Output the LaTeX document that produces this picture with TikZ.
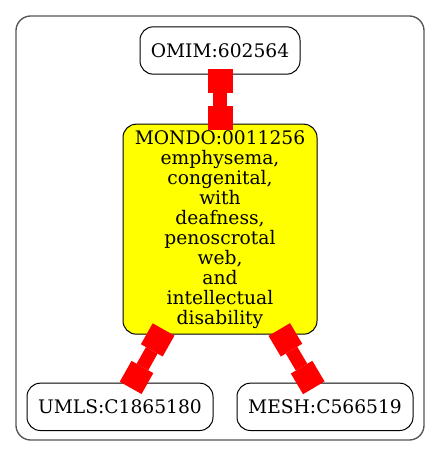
\documentclass[tikz,border=0pt]{standalone}
\usepackage{fontspec}
\setmainfont{DejaVu Serif}
\usetikzlibrary{arrows.meta, positioning}
\definecolor{termyellow}{RGB}{255,255,0}
\definecolor{linkred}{RGB}{255,0,0}

\begin{document}
\begin{tikzpicture}[
    x=0.75pt, y=-0.75pt,
    font=\fontsize{14}{15}\selectfont,
    node distance=36.75pt,
    term/.style={rectangle, rounded corners=10pt, draw=black, line width=0.75pt, fill=white, minimum height=35.5pt, inner sep=2pt, align=center},
    link/.style={linkred, line width=10pt, {Square[length=18pt,width=18.75pt,line width=0pt]}-{Square[length=18pt,width=18.75pt,line width=0pt]}, shorten <=-4.5pt, shorten >=-4.5pt}
]
\useasboundingbox (0,0) rectangle (440,456);
\draw[draw=black!67, line width=1pt, rounded corners=11pt] (16,16) rectangle (424,440);
\node[term, minimum width=120pt] (omim) at (220,50.5) {OMIM:602564};
\node[term, fill=termyellow, minimum width=145.5pt, minimum height=157.5pt, below=of omim] (mondo) {MONDO:0011256\\emphysema,\\congenital,\\with\\deafness,\\penoscrotal\\web,\\and\\intellectual\\disability};
\node[term, minimum width=139.5pt, below=36pt of mondo, xshift=-75pt] (umls) {UMLS:C1865180};
\node[term, minimum width=132pt, below=36pt of mondo, xshift=78.75pt] (mesh) {MESH:C566519};
\draw[link] (omim) -- (mondo);
\draw[link] (mondo) -- (umls);
\draw[link] (mondo) -- (mesh);
\end{tikzpicture}
\end{document}
